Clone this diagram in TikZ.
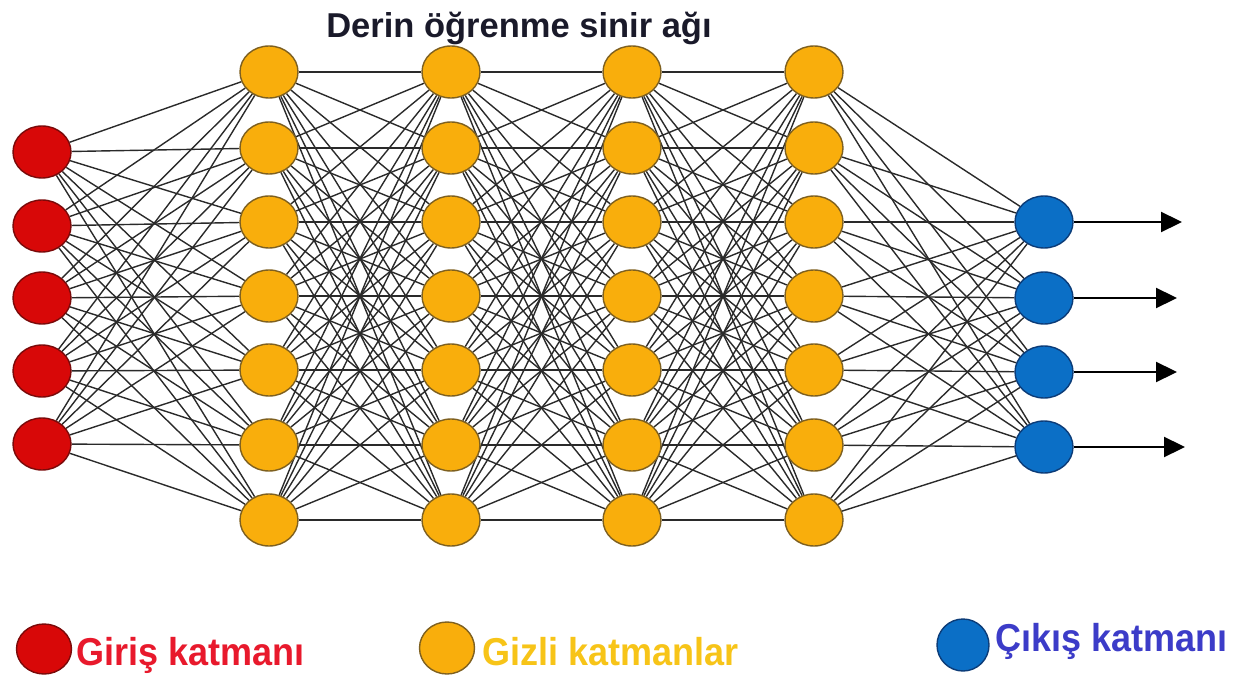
\documentclass[tikz,border=0pt]{standalone}
\usepackage{fontspec}
\setmainfont{Liberation Sans}
\usetikzlibrary{shapes.geometric,arrows.meta,backgrounds}

\definecolor{inFill}{HTML}{D80808}
\definecolor{inLine}{HTML}{7A0A0A}
\definecolor{hidFill}{HTML}{F9AE0C}
\definecolor{hidLine}{HTML}{7E6020}
\definecolor{outFill}{HTML}{0B6FC6}
\definecolor{outLine}{HTML}{0C3C78}
\definecolor{titleInk}{HTML}{1A1A2A}
\definecolor{redInk}{HTML}{E8192C}
\definecolor{yellowInk}{HTML}{F7C418}
\definecolor{blueInk}{HTML}{3C3CC8}
\definecolor{wire}{HTML}{2A2A2A}

\begin{document}
\begin{tikzpicture}[x=1pt,y=-1pt,
  neuron/.style={ellipse, minimum width=58pt, minimum height=52pt, inner sep=0pt, line width=1.4pt},
  inneuron/.style={neuron, fill=inFill, draw=inLine},
  hidneuron/.style={neuron, fill=hidFill, draw=hidLine},
  outneuron/.style={neuron, fill=outFill, draw=outLine},
  link/.style={draw=wire, line width=1.4pt},
  outarrow/.style={draw=black, line width=2.2pt, -{Triangle[length=21pt,width=20pt]}},
  legendtext/.style={anchor=base west, inner sep=0pt, yscale=1.08, font=\fontsize{36}{40}\selectfont\bfseries},
]
\useasboundingbox (0,0) rectangle (1234,676);

% title
\node[anchor=base, inner sep=0pt, text=titleInk, font=\fontsize{34.5}{38}\selectfont\bfseries]
  (title) at (519,38) {Derin öğrenme sinir ağı};

% input layer
\foreach \j/\y in {1/152,2/226,3/298,4/371,5/444}
  \node[inneuron] (in\j) at (42,\y) {};

% hidden layers
\foreach \l/\x in {1/269,2/451,3/632,4/814}
  \foreach \j/\y in {1/72,2/148,3/222,4/296,5/370,6/445,7/520}
    \node[hidneuron] (h\l-\j) at (\x,\y) {};

% output layer
\foreach \j/\y in {1/222,2/298,3/372,4/447}
  \node[outneuron] (out\j) at (1044,\y) {};

% output arrow tips
\coordinate (tip1) at (1182,222);
\coordinate (tip2) at (1177,298);
\coordinate (tip3) at (1177,372);
\coordinate (tip4) at (1185,447);

% fully connected wiring, kept behind the neurons
\begin{scope}[on background layer]
  \foreach \i in {1,...,5}
    \foreach \j in {1,...,7}
      \draw[link] (in\i) -- (h1-\j);
  \foreach \l/\m in {1/2,2/3,3/4}
    \foreach \i in {1,...,7}
      \foreach \j in {1,...,7}
        \draw[link] (h\l-\i) -- (h\m-\j);
  \foreach \i in {1,...,7}
    \foreach \j in {1,...,4}
      \draw[link] (h4-\i) -- (out\j);
\end{scope}

\foreach \j in {1,...,4}
  \draw[outarrow] (out\j) -- (tip\j);

% legend
\node[ellipse, minimum width=55pt, minimum height=50pt, inner sep=0pt, line width=1.4pt,
      fill=inFill, draw=inLine] (keyIn) at (44,649) {};
\node[legendtext, text=redInk] (keyInText) at (76,665) {Giriş katmanı};

\node[ellipse, minimum width=55pt, minimum height=52pt, inner sep=0pt, line width=1.4pt,
      fill=hidFill, draw=hidLine] (keyHid) at (447,648) {};
\node[legendtext, text=yellowInk] (keyHidText) at (482,665) {Gizli katmanlar};

\node[ellipse, minimum width=52pt, minimum height=52pt, inner sep=0pt, line width=1.4pt,
      fill=outFill, draw=outLine] (keyOut) at (963,645) {};
\node[legendtext, text=blueInk] (keyOutText) at (995,651) {Çıkış katmanı};
\end{tikzpicture}
\end{document}
